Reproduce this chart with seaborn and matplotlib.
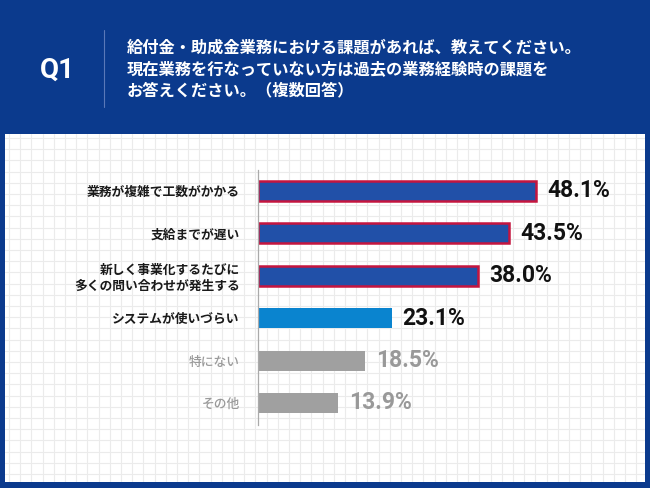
import matplotlib
matplotlib.use("Agg")
import matplotlib.pyplot as plt
import seaborn as sns
import pandas as pd
import numpy as np

categories = ["業務が複雑で工数がかかる", "支給までが遅い",
              "新しく事業化するたびに\n多くの問い合わせが発生する",
              "システムが使いづらい", "特にない", "その他"]
values = [48.1, 43.5, 38.0, 23.1, 18.5, 13.9]
value_labels = ["48.1%", "43.5%", "38.0%", "23.1%", "18.5%", "13.9%"]
title_lines = "給付金・助成金業務における課題があれば、教えてください。\n現在業務を行なっていない方は過去の業務経験時の課題を\nお答えください。（複数回答）"

BLUE_BG = "#0b3a8d"
bar_colors = ["#2150a8", "#2150a8", "#2150a8", "#0a84cf", "#a0a0a0", "#a0a0a0"]
edge_colors = ["#c4153f", "#c4153f", "#c4153f", None, None, None]
label_colors = ["#1a1a1a"] * 4 + ["#9a9a9a"] * 2
label_weights = ["bold"] * 4 + ["medium"] * 2
val_colors = ["#111111"] * 4 + ["#999999"] * 2

sns.set_theme(style="white")
plt.rcParams["font.family"] = ["Noto Sans CJK JP", "DejaVu Sans"]

W, H = 650, 488
fig = plt.figure(figsize=(W / 100, H / 100), dpi=100)
fig.patch.set_facecolor(BLUE_BG)

def px_rect(x0, y0, x1, y1):
    return [x0 / W, 1 - y1 / H, (x1 - x0) / W, (y1 - y0) / H]

# white panel with grid
bg = fig.add_axes(px_rect(5, 134, 645, 482))
bg.set_facecolor("white")
bg.set_xlim(0, 640)
bg.set_ylim(348, 0)
bg.set_xticks(np.arange(4, 640, 11.2))
bg.set_yticks(np.arange(4, 348, 11.2))
bg.grid(True, color="#ebebeb", linewidth=0.8)
bg.tick_params(length=0, labelbottom=False, labelleft=False)
for s in bg.spines.values():
    s.set_visible(False)

# header
fig.text(57 / W, 1 - 70 / H, "Q1", color="white", fontsize=20, fontweight="bold",
         ha="center", va="center", family=["Roboto", "DejaVu Sans"])
fig.add_artist(plt.Line2D([104 / W, 104 / W], [1 - 30 / H, 1 - 107 / H],
                          color="#5a78b8", linewidth=0.8))
fig.text(127 / W, 1 - 69 / H, title_lines, color="white", fontsize=11.7,
         fontweight="bold", ha="left", va="center", linespacing=1.45)

# main chart
ax = fig.add_axes(px_rect(258, 170, 640, 425))
ax.patch.set_alpha(0)
df = pd.DataFrame({"cat": categories, "val": values})
sns.barplot(data=df, y="cat", x="val", hue="cat", palette=bar_colors,
            orient="h", width=0.47, legend=False, ax=ax, saturation=1)
for p, ec in zip(ax.patches, edge_colors):
    if ec:
        p.set_edgecolor(ec)
        p.set_linewidth(1.8)
    else:
        p.set_linewidth(0)
ax.set_xlim(0, (640 - 258) / 5.78)
ax.set_ylim(5.52, -0.495)
ax.set_xlabel("")
ax.set_ylabel("")
ax.set_xticks([])
for s in ["top", "right", "bottom"]:
    ax.spines[s].set_visible(False)
ax.spines["left"].set_color("#aaaaaa")
ax.spines["left"].set_linewidth(0.9)
ax.tick_params(axis="y", length=0, pad=13)
ax.set_yticks(range(len(categories)))
ax.set_yticklabels(categories, fontsize=9.2, fontweight="bold", linespacing=1.3)
for t, c, w in zip(ax.get_yticklabels(), label_colors, label_weights):
    t.set_color(c)
    t.set_fontweight(w)

for i, (v, lab, c) in enumerate(zip(values, value_labels, val_colors)):
    ax.annotate(lab, xy=(v, i), xytext=(8, 0), textcoords="offset points",
                ha="left", va="center", fontsize=16.5, fontweight="bold", color=c,
                family=["Roboto", "DejaVu Sans"])

fig.savefig("out.png", dpi=100, facecolor=fig.get_facecolor())
